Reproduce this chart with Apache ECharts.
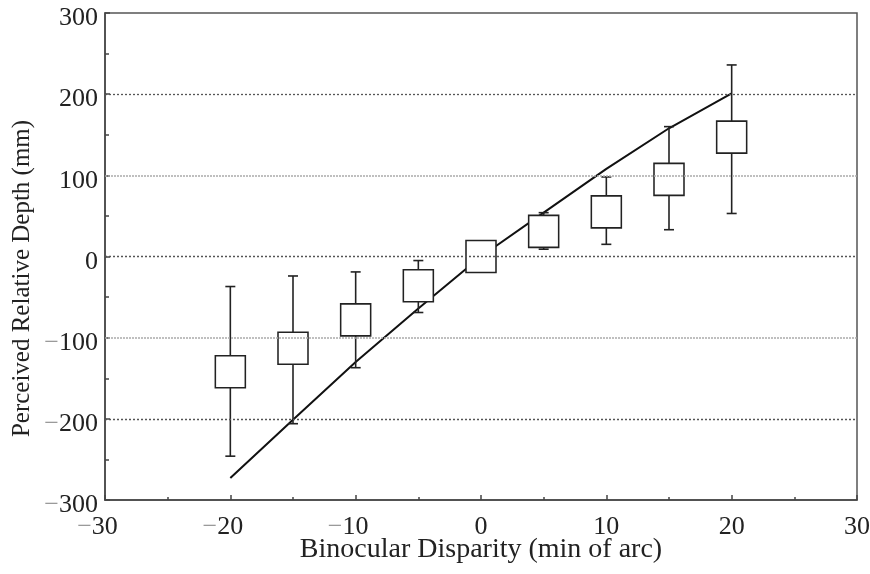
<!DOCTYPE html>
<html>
<head>
<meta charset="utf-8">
<script src="https://cdn.jsdelivr.net/npm/echarts@6/dist/echarts.min.js"></script>
<style>
  html, body { margin: 0; padding: 0; background: #fff; }
  #main { width: 870px; height: 574px; }
</style>
</head>
<body>
<div id="main"></div>
<script>
// binocular disparity (min of arc)
const disparity = [-20, -15, -10, -5, 0, 5, 10, 15, 20];
// perceived relative depth (mm): mean, lower and upper whisker
const meanDepth = [-142, -113, -78, -36, 0, 31, 55, 95, 147];
const errLow = [-246, -206, -137, -69, -8, 9, 15, 33, 53];
const errHigh = [-37, -24, -19, -5, 8, 54, 98, 160, 236];
// predicted depth (solid line)
const predicted = [-273, -201, -130, -64, 0, 54, 108, 158, 201];
// horizontal reference lines
const gridValues = [-200, -100, 0, 100, 200];

const font = 'Liberation Serif';

// gray typographic minus in front of negative labels
function fmtY(v) {
  if (v < 0) return '{m|\u2212}{n|' + Math.abs(v) + '}';
  return '{n|' + v + '}';
}
// on the x axis the digits stay centred on the tick, the minus hangs left
function fmtX(v) {
  if (v < 0) return '{m|\u2212}{p|' + Math.abs(v) + '}';
  return '{n|' + v + '}';
}
const rich = {
  m: { color: '#9a9a9a', fontFamily: font, fontSize: 26 },
  n: { color: '#222', fontFamily: font, fontSize: 26 },
  p: { color: '#222', fontFamily: font, fontSize: 26, padding: [0, 15, 0, 0] }
};

const myChart = echarts.init(document.getElementById('main'));

const option = {
  animation: false,
  backgroundColor: '#fff',
  grid: {
    left: 105, top: 13, right: 13, bottom: 74,
    containLabel: false,
    outerBoundsMode: 'none',
    show: true, borderColor: '#555', borderWidth: 1.5
  },
  xAxis: {
    type: 'value',
    min: -30, max: 30, interval: 10,
    name: 'Binocular Disparity (min of arc)',
    nameLocation: 'middle',
    nameGap: 36,
    nameMoveOverlap: false,
    nameTextStyle: { fontFamily: font, fontSize: 28, color: '#222' },
    axisLine: { onZero: false, lineStyle: { color: '#444', width: 1.5 } },
    axisTick: { inside: true, length: 5, lineStyle: { color: '#444', width: 1.5 } },
    minorTick: { show: true, splitNumber: 2, length: 3, lineStyle: { color: '#444', width: 1.5 } },
    axisLabel: { margin: 14, formatter: fmtX, rich: rich },
    splitLine: { show: false }
  },
  yAxis: {
    type: 'value',
    min: -300, max: 300, interval: 100,
    name: 'Perceived Relative Depth (mm)',
    nameLocation: 'middle',
    nameGap: 70,
    nameMoveOverlap: false,
    nameTextStyle: { fontFamily: font, fontSize: 25, color: '#222', padding: [0, 44, 0, 0] },
    axisLine: { onZero: false, lineStyle: { color: '#444', width: 1.5 } },
    axisTick: { inside: true, length: 5, lineStyle: { color: '#444', width: 1.5 } },
    minorTick: { show: true, splitNumber: 2, length: 4, lineStyle: { color: '#444', width: 1.5 } },
    axisLabel: { margin: 7, padding: [11, 0, 0, 0], formatter: fmtY, rich: rich },
    splitLine: { show: false }
  },
  series: [
    {
      name: 'predicted',
      type: 'line',
      data: disparity.map((x, i) => [x, predicted[i]]),
      symbol: 'none',
      lineStyle: { color: '#111', width: 2 },
      z: 2,
      markLine: {
        silent: true,
        symbol: 'none',
        label: { show: false },
        data: gridValues.map(v => ({
          yAxis: v,
          lineStyle: Math.abs(v) === 100
            ? { color: '#aaa', type: [2, 1], width: 1.5 }
            : { color: '#555', type: [2, 2], width: 1.3 }
        }))
      }
    },
    {
      name: 'error',
      type: 'custom',
      z: 3,
      data: disparity.map((x, i) => [x, errLow[i], errHigh[i]]),
      renderItem: function (params, api) {
        const x = api.value(0);
        const lo = api.coord([x, api.value(1)]);
        const hi = api.coord([x, api.value(2)]);
        const cap = 5;
        const style = { stroke: '#222', lineWidth: 1.6 };
        return {
          type: 'group',
          children: [
            { type: 'line', shape: { x1: lo[0], y1: lo[1], x2: hi[0], y2: hi[1] }, style: style },
            { type: 'line', shape: { x1: hi[0] - cap, y1: hi[1], x2: hi[0] + cap, y2: hi[1] }, style: style },
            { type: 'line', shape: { x1: lo[0] - cap, y1: lo[1], x2: lo[0] + cap, y2: lo[1] }, style: style }
          ]
        };
      }
    },
    {
      name: 'mean',
      type: 'scatter',
      z: 4,
      data: disparity.map((x, i) => [x, meanDepth[i]]),
      symbol: 'rect',
      symbolSize: [30, 32],
      itemStyle: { color: '#fff', borderColor: '#222', borderWidth: 1.6, opacity: 1 }
    }
  ]
};

myChart.setOption(option);
</script>
</body>
</html>
